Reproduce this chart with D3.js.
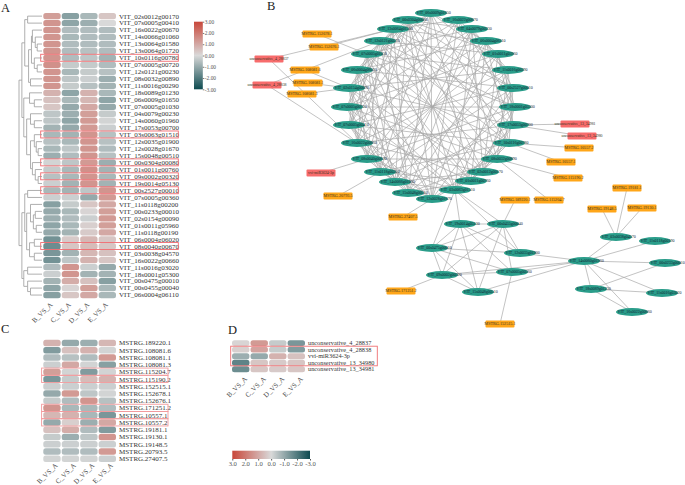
<!DOCTYPE html>
<html>
<head>
<meta charset="utf-8">
<script src="https://cdn.jsdelivr.net/npm/d3@7"></script>
<style>
  html, body { margin: 0; padding: 0; background: #fff; }
  svg { display: block; font-family: "Liberation Serif", serif; }
</style>
</head>
<body>
<script>
const width = 685;
const height = 485;

const groups = ["B_VS_A", "C_VS_A", "D_VS_A", "E_VS_A"];
const legendTicks = [3, 2, 1, 0, -1, -2, -3];

// panel A
const genesA = [
  "VIT_02s0012g00170", "VIT_07s0005g00410", "VIT_16s0022g00670", "VIT_14s0066g01060",
  "VIT_13s0064g01580", "VIT_13s0064g01720", "VIT_10s0116g00780", "VIT_07s0005g00720",
  "VIT_12s0121g00230", "VIT_08s0032g00890", "VIT_11s0016g00290", "VIT_18s0089g01230",
  "VIT_06s0009g01650", "VIT_07s0005g01030", "VIT_04s0079g00230", "VIT_14s0060g01960",
  "VIT_17s0053g00700", "VIT_03s0063g01510", "VIT_12s0035g01900", "VIT_12s0028g01670",
  "VIT_15s0048g00510", "VIT_00s0304g00080", "VIT_01s0011g00760", "VIT_09s0002g00320",
  "VIT_19s0014g05130", "VIT_00s2527g00010", "VIT_07s0005g00360", "VIT_11s0118g00200",
  "VIT_00s0233g00010", "VIT_02s0154g00090", "VIT_01s0011g05960", "VIT_11s0118g00190",
  "VIT_06s0004g06020", "VIT_08s0040g00670", "VIT_03s0038g04570", "VIT_16s0022g00660",
  "VIT_11s0016g03020", "VIT_18s0001g05300", "VIT_00s0475g00010", "VIT_00s0455g00040",
  "VIT_06s0004g06110"
];
const valuesA = [
  [1.2, -1.2, -0.7, 0.4], [1.4, -1.1, -0.9, 0.0], [1.4, -0.6, -0.6, -0.6], [1.4, -0.7, -0.6, -0.6],
  [1.4, -0.6, -0.6, -0.6], [1.4, -0.6, -0.5, -0.6], [1.4, -0.6, -0.4, -0.8], [1.5, -0.3, -0.3, -0.6],
  [1.4, -0.7, -0.3, -0.5], [1.4, -0.4, -0.2, -0.9], [1.4, -0.3, -0.5, -0.8], [0.8, -1.1, 0.8, -0.7],
  [0.5, -0.7, 0.7, -1.1], [0.4, -1.0, 1.0, -1.0], [-0.4, -0.9, 1.2, -0.3], [-0.4, -1.1, 1.3, -0.1],
  [-0.8, -1.0, 1.3, -0.2], [-0.7, -0.8, 1.4, -0.5], [-0.5, -0.7, 1.4, -0.5], [-0.7, -0.4, 1.4, -0.6],
  [-0.9, -0.6, 1.4, -0.5], [-0.1, -0.4, 1.3, -0.9], [-0.3, -0.7, 1.5, -0.8], [-0.5, -0.7, 1.4, -0.7],
  [-0.2, -0.8, 1.4, -0.8], [-0.7, -0.8, -0.4, 1.4], [-0.2, -0.2, -1.0, 1.3], [-1.2, -0.3, 0.4, 1.0],
  [-1.0, -0.7, 0.1, 1.2], [-0.9, -0.6, -0.2, 1.3], [-1.1, -0.7, 0.2, 1.2], [-1.0, -0.8, 0.3, 1.0],
  [-1.5, 0.3, 0.7, 0.4], [-1.6, 0.4, 0.6, 0.4], [-1.4, -0.8, 0.7, 0.5], [-1.5, -0.4, 0.8, 0.4],
  [-0.6, 1.4, -0.2, -1.0], [-0.2, 1.4, -0.8, -0.8], [-0.8, 0.9, 0.5, -1.2], [-1.1, 0.1, 1.2, -0.7],
  [-1.2, 0.4, 1.0, -0.7]
];
const boxedA = [
  "VIT_10s0116g00780", "VIT_03s0063g01510", "VIT_00s0304g00080",
  "VIT_09s0002g00320", "VIT_00s2527g00010", "VIT_08s0040g00670"
];
// [merge distance, left, right], leaves are row numbers
const treeA = [24,
  [21,
    [18,
      [15, 1, 2],
      [14,
        [11, [10, 3, [7, 4, [5, 5, 6]]], [8, 7, [5, 8, 9]]],
        [12, 10, 11]]],
    [19,
      [13, 12, [8, 13, 14]],
      [16,
        [12, 15, [8, 16, 17]],
        [12,
          [8, 18, [6, 19, [4, 20, 21]]],
          [10, 22, [7, 23, [4, 24, 25]]]]]]],
  [21,
    [18,
      [15, 26, 27],
      [16,
        [12, 28, [9, [7, 29, 30], [6, 31, 32]]],
        [13, [8, 33, 34], [8, 35, 36]]]],
    [19,
      [15, 37, 38],
      [15, 39, [12, 40, 41]]]]
];

// panel C
const genesC = [
  "MSTRG.189220.1", "MSTRG.108081.6", "MSTRG.108081.1", "MSTRG.108081.3", "MSTRG.115204.7",
  "MSTRG.115190.2", "MSTRG.152515.1", "MSTRG.152678.1", "MSTRG.152676.1", "MSTRG.171251.2",
  "MSTRG.10557.1", "MSTRG.10557.2", "MSTRG.19181.1", "MSTRG.19130.1", "MSTRG.19148.5",
  "MSTRG.20793.5", "MSTRG.27407.5"
];
const valuesC = [
  [0.8, -1.0, -0.9, 0.7], [-1.3, 0.5, 0.8, -0.1], [-0.6, -0.5, -0.6, 1.3], [-0.2, 1.0, -0.1, -1.2],
  [1.2, -0.1, -1.3, -0.1], [-1.4, -0.3, 0.6, 0.8], [-0.2, -0.2, -0.2, -0.2], [-1.0, 1.3, -0.4, -0.1],
  [-0.3, -0.6, 1.4, -0.5], [1.4, -0.7, -0.7, -0.6], [0.7, 0.8, -0.7, -1.4], [-1.0, 0.2, -0.9, 1.0],
  [0.5, 0.9, -0.6, -1.3], [-0.3, -0.9, -0.4, 1.4], [-0.2, -0.2, -0.2, -0.2], [-0.6, -0.6, -0.6, 1.3],
  [-0.1, -0.1, -0.1, -0.2]
];
const boxedC = [
  "MSTRG.115204.7", "MSTRG.115190.2", "MSTRG.171251.2", "MSTRG.10557.1", "MSTRG.10557.2"
];

// panel D
const genesD = [
  "unconservative_4_28837", "unconservative_4_28838", "vvi-miR3624-3p",
  "unconservative_13_34980", "unconservative_13_34981"
];
const valuesD = [
  [0.1, 1.3, -0.3, -1.4], [0.2, 1.1, -0.3, -1.3], [-0.9, -1.0, 0.8, 0.5],
  [-1.8, 0.4, 0.3, 0.4], [-1.6, 0.4, 0.3, 0.4]
];

// panel B, node placement
const ringNames = [
  "VIT_06s0009g01650", "VIT_16s0022g00670", "VIT_04s0079g00230", "VIT_06s0004g06110",
  "VIT_01s0011g05960", "VIT_11s0016g00290", "VIT_00s2527g00010", "VIT_18s0001g05300",
  "VIT_17s0053g00700", "VIT_10s0116g00780", "VIT_08s0032g00890", "VIT_02s0012g00170",
  "VIT_01s0011g00760", "VIT_03s0063g01510", "VIT_12s0028g01670", "VIT_15s0048g00510",
  "VIT_14s0066g01060", "VIT_11s0118g00200", "VIT_08s0040g00670", "VIT_16s0022g00660",
  "VIT_07s0005g00410", "VIT_07s0005g00720", "VIT_02s0154g00090", "VIT_06s0004g06020",
  "VIT_07s0005g01030", "VIT_12s0121g00230", "VIT_13s0064g01580", "VIT_00s0304g00080"
];
const ringCol = [431, 458, 472, 486, 498, 508, 513, 515, 513, 509, 497, 483, 471, 455,
  432, 408, 395, 380, 367, 357, 349, 347, 349, 357, 367, 380, 393, 408];
const ringRow = [13, 20, 29, 41, 54, 70, 88, 107, 125, 143, 159, 172, 181, 190,
  199, 193, 182, 172, 159, 143, 125, 107, 88, 70, 54, 41, 29, 20];

const lowerNames = [
  "VIT_19s0014g05130", "VIT_00s0455g00040", "VIT_00s0475g00010", "VIT_12s0035g01900",
  "VIT_09s0002g00320", "VIT_07s0005g00360", "VIT_15s0048g00510", "VIT_14s0060g01960",
  "VIT_03s0038g04570", "VIT_11s0118g00190", "VIT_00s0233g00010", "VIT_18s0089g01230",
  "VIT_11s0016g03020", "VIT_16s0022g00660"
];
const lowerCol = [460, 503, 432, 520, 442, 512, 478, 584, 616, 655, 665, 591, 662, 632];
const lowerRow = [224, 224, 248, 253, 275, 272, 292, 261, 237, 241, 263, 289, 293, 312];

const mstrgNames = [
  "MSTRG.152678.1", "MSTRG.152676.1", "MSTRG.108081.6", "MSTRG.108081.1", "MSTRG.108081.3",
  "MSTRG.20793.5", "MSTRG.27407.5", "MSTRG.171251.2", "MSTRG.10557.2", "MSTRG.10557.1",
  "MSTRG.115190.2", "MSTRG.115204.7", "MSTRG.189220.1", "MSTRG.19181.1", "MSTRG.19148.5",
  "MSTRG.19130.1", "MSTRG.152515.1"
];
const mstrgCol = [317, 324, 305, 308, 302, 338, 403, 401, 579, 561, 568, 549, 515, 627, 602, 642, 500];
const mstrgRow = [34, 47, 70, 83, 94, 196, 217, 291, 148, 162, 178, 200, 200, 188, 209, 208, 324];

const mirnaNames = [
  "unconservative_4_28837", "unconservative_4_28838", "vvi-miR3624-3p",
  "unconservative_13_34981", "unconservative_13_34980"
];
const mirnaCol = [269, 267, 321, 575, 582];
const mirnaRow = [59, 85, 173, 124, 136];

// ring links, estimated from the tangle in the middle of the network
const ringLinks = [
  [0, [3, 5, 9, 12, 14, 15, 17, 20, 23, 25]],
  [1, [4, 7, 10, 14, 16, 19, 22, 26]],
  [2, [5, 8, 11, 13, 15, 16, 18, 21, 24, 27]],
  [3, [6, 9, 12, 14, 17, 20, 23, 26]],
  [4, [7, 8, 11, 15, 18, 21, 25, 27]],
  [5, [8, 10, 13, 16, 19, 22, 24]],
  [6, [9, 11, 14, 17, 20, 23, 26, 27]],
  [7, [10, 12, 15, 18, 21, 24, 25]],
  [8, [11, 13, 16, 19, 22, 26]],
  [9, [12, 14, 17, 20, 23, 25, 27]],
  [10, [13, 15, 18, 21, 24, 26]],
  [11, [14, 16, 19, 22, 25, 27]],
  [12, [15, 17, 20, 23, 24, 26]],
  [13, [16, 18, 21, 22, 25, 27]],
  [14, [17, 19, 20, 23, 24, 27]],
  [15, [18, 20, 22, 25, 26]],
  [16, [19, 21, 23, 24, 27]],
  [17, [20, 22, 24, 26]],
  [18, [21, 23, 25, 27]],
  [19, [22, 24, 26]],
  [20, [23, 25, 27]],
  [21, [24, 26]],
  [22, [25, 27]],
  [23, [26]],
  [24, [27]]
];
const lowerLinks = [
  [0, 1], [0, 2], [0, 4], [0, 6], [0, 3], [0, 5], [1, 2], [1, 4], [1, 6], [1, 3], [1, 5],
  [2, 3], [2, 4], [2, 6], [2, 5], [4, 5], [4, 6], [7, 8], [7, 9], [7, 10], [7, 11], [7, 12],
  [7, 13], [7, 3], [7, 5], [7, 4], [7, 6], [11, 10], [11, 12], [11, 13]
];
// ring node to lower node
const bridgeLinks = [[13, 2], [13, 0], [13, 1], [13, 3]];
// [kind, index] of the small node, then [kind, index] of its partner
const sideLinks = [
  ["mstrg", 0, "ring", 24], ["mstrg", 1, "ring", 26], ["mstrg", 2, "ring", 22],
  ["mstrg", 3, "ring", 22], ["mstrg", 4, "ring", 22], ["mstrg", 5, "ring", 17],
  ["mstrg", 6, "ring", 14], ["mstrg", 7, "lower", 4], ["mstrg", 8, "ring", 9],
  ["mstrg", 9, "ring", 9], ["mstrg", 10, "ring", 10], ["mstrg", 11, "ring", 10],
  ["mstrg", 12, "lower", 1], ["mstrg", 13, "lower", 8], ["mstrg", 14, "lower", 8],
  ["mstrg", 15, "lower", 8], ["mstrg", 16, "lower", 5],
  ["mirna", 0, "ring", 26], ["mirna", 0, "ring", 19], ["mirna", 1, "ring", 25],
  ["mirna", 1, "ring", 19], ["mirna", 2, "ring", 18], ["mirna", 3, "ring", 8],
  ["mirna", 4, "ring", 8]
];

const svg = d3
  .select("body")
  .append("svg")
  .attr("width", width)
  .attr("height", height);

const colorScale = d3
  .scaleLinear()
  .domain([3, 0, -3])
  .range(["#c8473a", "#d9d9d9", "#0d4a50"]);

const addPanelLetter = (label, x, y) => {
  svg
    .append("text")
    .text(label)
    .attr("x", x)
    .attr("y", y)
    .attr("font-size", 12.5)
    .attr("fill", "#222");
};

const drawHeatmap = (names, values, box) => {
  const g = svg.append("g");

  const xScale = d3.scaleBand().domain(groups).range(box.x).paddingInner(0.06);
  const yScale = d3.scaleBand().domain(names).range(box.y).paddingInner(0.1);

  names.forEach((name, i) => {
    g.selectAll(null)
      .data(values[i])
      .enter()
      .append("rect")
      .attr("x", (d, j) => xScale(groups[j]))
      .attr("y", yScale(name))
      .attr("width", xScale.bandwidth())
      .attr("height", yScale.bandwidth())
      .attr("rx", 2.5)
      .attr("fill", (d) => colorScale(d));
  });

  g.selectAll(".row-label")
    .data(names)
    .enter()
    .append("text")
    .attr("class", "row-label")
    .text((d) => d)
    .attr("x", box.x[1] + 3)
    .attr("y", (d) => yScale(d) + yScale.bandwidth() / 2)
    .attr("dy", "0.34em")
    .attr("font-size", box.fontSize)
    .attr("fill", "#333");

  g.selectAll(".col-label")
    .data(groups)
    .enter()
    .append("text")
    .attr("class", "col-label")
    .text((d) => d)
    .attr("text-anchor", "end")
    .attr("font-size", 7)
    .attr("fill", "#444")
    .attr("transform", (d) => {
      const cx = xScale(d) + xScale.bandwidth() / 2 + box.labelShift;
      return `translate(${cx},${box.y[1] + box.labelGap}) rotate(-45)`;
    });

  return { g, xScale, yScale };
};

const drawBoxes = (panel, rows, x0, x1, color) => {
  const step = panel.yScale.step();
  rows.forEach((r) => {
    panel.g
      .append("rect")
      .attr("x", x0)
      .attr("y", panel.yScale(r[0]) - step * 0.08)
      .attr("width", x1 - x0)
      .attr("height", panel.yScale(r[1]) - panel.yScale(r[0]) + step)
      .attr("fill", "none")
      .attr("stroke", color)
      .attr("stroke-width", 0.9);
  });
};

const drawDendrogram = (panel) => {
  const distScale = d3.scaleLinear().domain([0, 24]).range([42, 19]);
  const root = d3.hierarchy(treeA, (n) => (Array.isArray(n) ? n.slice(1) : null));

  root.eachAfter((node) => {
    if (node.children) {
      node.px = distScale(node.data[0]);
      node.py = d3.mean(node.children, (c) => c.py);
    } else {
      node.px = distScale(0);
      const name = genesA[node.data - 1];
      node.py = panel.yScale(name) + panel.yScale.bandwidth() / 2;
    }
  });

  svg
    .append("g")
    .attr("fill", "none")
    .attr("stroke", "#9a9a9a")
    .attr("stroke-width", 0.8)
    .selectAll("path")
    .data(root.links())
    .enter()
    .append("path")
    .attr("d", (l) => {
      const path = d3.path();
      path.moveTo(l.source.px, l.source.py);
      path.lineTo(l.source.px, l.target.py);
      path.lineTo(l.target.px, l.target.py);
      return path.toString();
    });
};

const drawVerticalLegend = () => {
  const scale = d3.scaleLinear().domain([3, -3]).range([21.7, 89.3]);

  const gradient = svg
    .append("defs")
    .append("linearGradient")
    .attr("id", "legend-v")
    .attr("x1", 0)
    .attr("x2", 0)
    .attr("y1", 0)
    .attr("y2", 1);
  gradient
    .selectAll("stop")
    .data(legendTicks)
    .enter()
    .append("stop")
    .attr("offset", (d) => (3 - d) / 6)
    .attr("stop-color", (d) => colorScale(d));

  svg
    .append("rect")
    .attr("x", 194)
    .attr("y", scale(3))
    .attr("width", 8.8)
    .attr("height", scale(-3) - scale(3))
    .attr("fill", "url(#legend-v)");

  const axis = d3
    .axisRight(scale)
    .tickValues(legendTicks)
    .tickSize(1.5)
    .tickPadding(0.5)
    .tickFormat((d) => d.toFixed(2));

  const a = svg.append("g").attr("transform", "translate(202.8,0)").call(axis);
  a.select(".domain").remove();
  a.selectAll("line").attr("stroke", "#777");
  a.selectAll("text")
    .attr("font-family", "Liberation Serif")
    .attr("font-size", 5.4)
    .attr("fill", "#555");
};

const drawHorizontalLegend = () => {
  const scale = d3.scaleLinear().domain([3, -3]).range([232.3, 310]);

  const gradient = svg
    .select("defs")
    .append("linearGradient")
    .attr("id", "legend-h")
    .attr("x1", 0)
    .attr("x2", 1)
    .attr("y1", 0)
    .attr("y2", 0);
  gradient
    .selectAll("stop")
    .data(legendTicks)
    .enter()
    .append("stop")
    .attr("offset", (d) => (3 - d) / 6)
    .attr("stop-color", (d) => colorScale(d));

  svg
    .append("rect")
    .attr("x", scale(3))
    .attr("y", 450.7)
    .attr("width", scale(-3) - scale(3))
    .attr("height", 8.3)
    .attr("fill", "url(#legend-h)");

  const axis = d3
    .axisBottom(scale)
    .tickValues(legendTicks)
    .tickSize(1.5)
    .tickPadding(0.5)
    .tickFormat((d) => d.toFixed(1));

  const a = svg.append("g").attr("transform", "translate(0,459)").call(axis);
  a.select(".domain").remove();
  a.selectAll("line").attr("stroke", "#555");
  a.selectAll("text")
    .attr("font-family", "Liberation Serif")
    .attr("font-size", 6.6)
    .attr("fill", "#555");
};

const drawNetwork = () => {
  // layout units are the reading off the picture, kept on their own scales
  const xScale = d3.scaleLinear().domain([240, 685]).range([240, 685]);
  const yScale = d3.scaleLinear().domain([0, 340]).range([0, 340]);

  const tables = {
    ring: { col: ringCol, row: ringRow },
    lower: { col: lowerCol, row: lowerRow },
    mstrg: { col: mstrgCol, row: mstrgRow },
    mirna: { col: mirnaCol, row: mirnaRow }
  };
  const at = (kind, i) => [xScale(tables[kind].col[i]), yScale(tables[kind].row[i])];

  const links = [];
  ringLinks.forEach(([a, list]) => {
    list.forEach((b) => links.push([at("ring", a), at("ring", b)]));
  });
  lowerLinks.forEach(([a, b]) => links.push([at("lower", a), at("lower", b)]));
  bridgeLinks.forEach(([a, b]) => links.push([at("ring", a), at("lower", b)]));
  sideLinks.forEach(([k1, a, k2, b]) => links.push([at(k1, a), at(k2, b)]));

  const net = svg.append("g");

  net
    .append("g")
    .attr("stroke", "#a9a9a9")
    .attr("stroke-width", 0.7)
    .selectAll("line")
    .data(links)
    .enter()
    .append("line")
    .attr("x1", (d) => d[0][0])
    .attr("y1", (d) => d[0][1])
    .attr("x2", (d) => d[1][0])
    .attr("y2", (d) => d[1][1]);

  const addEllipses = (names, kind) => {
    const g = net.append("g");
    g.selectAll("ellipse")
      .data(names)
      .enter()
      .append("ellipse")
      .attr("cx", (d, i) => at(kind, i)[0])
      .attr("cy", (d, i) => at(kind, i)[1])
      .attr("rx", 16)
      .attr("ry", 3.9)
      .attr("fill", "#2a9d8a");
    g.selectAll("text")
      .data(names)
      .enter()
      .append("text")
      .text((d) => d)
      .attr("x", (d, i) => at(kind, i)[0] - 14.5)
      .attr("y", (d, i) => at(kind, i)[1])
      .attr("dy", "0.34em")
      .attr("font-size", 4)
      .attr("fill", "#123");
  };

  const addBoxes = (names, kind, fill, size) => {
    const g = net.append("g");
    g.selectAll("rect")
      .data(names)
      .enter()
      .append("rect")
      .attr("x", (d, i) => at(kind, i)[0] - 14.5)
      .attr("y", (d, i) => at(kind, i)[1] - 3.5)
      .attr("width", 29)
      .attr("height", 7)
      .attr("rx", 1)
      .attr("fill", fill);
    g.selectAll("text")
      .data(names)
      .enter()
      .append("text")
      .text((d) => d)
      .attr("x", (d, i) => at(kind, i)[0])
      .attr("y", (d, i) => at(kind, i)[1])
      .attr("dy", "0.34em")
      .attr("text-anchor", "middle")
      .attr("font-size", size)
      .attr("fill", "#332");
  };

  addEllipses(ringNames, "ring");
  addEllipses(lowerNames, "lower");
  addBoxes(mstrgNames, "mstrg", "#ffa619", 4.2);
  addBoxes(mirnaNames, "mirna", "#f76c6c", 3.9);
};

addPanelLetter("A", 1, 12);
addPanelLetter("B", 267, 10);
addPanelLetter("C", 1, 333);
addPanelLetter("D", 228, 334);

const panelA = drawHeatmap(genesA, valuesA, {
  x: [43.3, 116],
  y: [13, 298.2],
  fontSize: 7,
  labelShift: 1,
  labelGap: 7
});
drawBoxes(
  panelA,
  boxedA.map((d) => [d, d]),
  40.7,
  178.3,
  "#f0696e"
);
drawDendrogram(panelA);
drawVerticalLegend();

const panelC = drawHeatmap(genesC, valuesC, {
  x: [43.3, 116],
  y: [339.7, 462],
  fontSize: 7,
  labelShift: 6,
  labelGap: 4
});
drawBoxes(
  panelC,
  boxedC.map((d) => [d, d]),
  41.6,
  168,
  "#f29a9c"
);

const panelD = drawHeatmap(genesD, valuesD, {
  x: [232, 305],
  y: [340.2, 372.2],
  fontSize: 6.3,
  labelShift: 7,
  labelGap: 7.3
});
drawBoxes(panelD, [[genesD[1], genesD[3]]], 230.7, 377.3, "#ee6f72");
drawHorizontalLegend();

drawNetwork();
</script>
</body>
</html>
